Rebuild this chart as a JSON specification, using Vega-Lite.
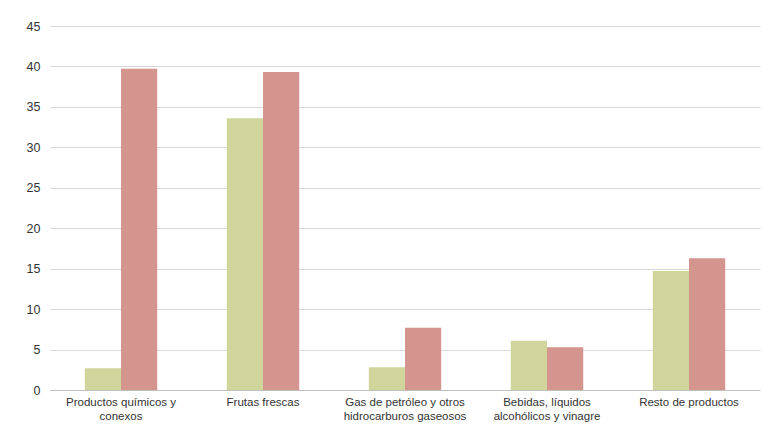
{
  "$schema": "https://vega.github.io/schema/vega-lite/v6.json",
  "width": 710,
  "height": 364,
  "autosize": "none",
  "padding": {"left": 50, "top": 26, "right": 10, "bottom": 43},
  "background": "white",
  "data": {
    "values": [
      {"categoria": "Productos químicos y|conexos", "serie": "A", "valor": 2.7},
      {"categoria": "Productos químicos y|conexos", "serie": "B", "valor": 39.7},
      {"categoria": "Frutas frescas", "serie": "A", "valor": 33.6},
      {"categoria": "Frutas frescas", "serie": "B", "valor": 39.3},
      {"categoria": "Gas de petróleo y otros|hidrocarburos gaseosos", "serie": "A", "valor": 2.8},
      {"categoria": "Gas de petróleo y otros|hidrocarburos gaseosos", "serie": "B", "valor": 7.7},
      {"categoria": "Bebidas, líquidos|alcohólicos y vinagre", "serie": "A", "valor": 6.1},
      {"categoria": "Bebidas, líquidos|alcohólicos y vinagre", "serie": "B", "valor": 5.3},
      {"categoria": "Resto de productos", "serie": "A", "valor": 14.7},
      {"categoria": "Resto de productos", "serie": "B", "valor": 16.3}
    ]
  },
  "mark": {"type": "bar"},
  "encoding": {
    "x": {
      "field": "categoria",
      "type": "nominal",
      "sort": null,
      "title": null,
      "scale": {"paddingInner": 0.49, "paddingOuter": 0.245},
      "axis": {
        "labelAngle": 0,
        "labelExpr": "split(datum.label, '|')",
        "labelFont": "Liberation Sans",
        "labelFontSize": 11.5,
        "labelColor": "#333333",
        "labelLineHeight": 14,
        "labelPadding": 6,
        "ticks": false,
        "domainColor": "#bfbfbf",
        "labelLimit": 200
      }
    },
    "xOffset": {"field": "serie", "type": "nominal", "scale": {"paddingInner": 0, "paddingOuter": 0}},
    "y": {
      "field": "valor",
      "type": "quantitative",
      "title": null,
      "scale": {"domain": [0, 45]},
      "axis": {
        "values": [0, 5, 10, 15, 20, 25, 30, 35, 40, 45],
        "domain": false,
        "ticks": false,
        "labelFont": "Liberation Sans",
        "labelFontSize": 12.5,
        "labelColor": "#333333",
        "labelPadding": 10,
        "gridColor": "#d9d9d9"
      }
    },
    "color": {
      "field": "serie",
      "type": "nominal",
      "legend": null,
      "scale": {"domain": ["A", "B"], "range": ["#cfd59b", "#d3958d"]}
    }
  },
  "config": {"view": {"stroke": null}}
}
